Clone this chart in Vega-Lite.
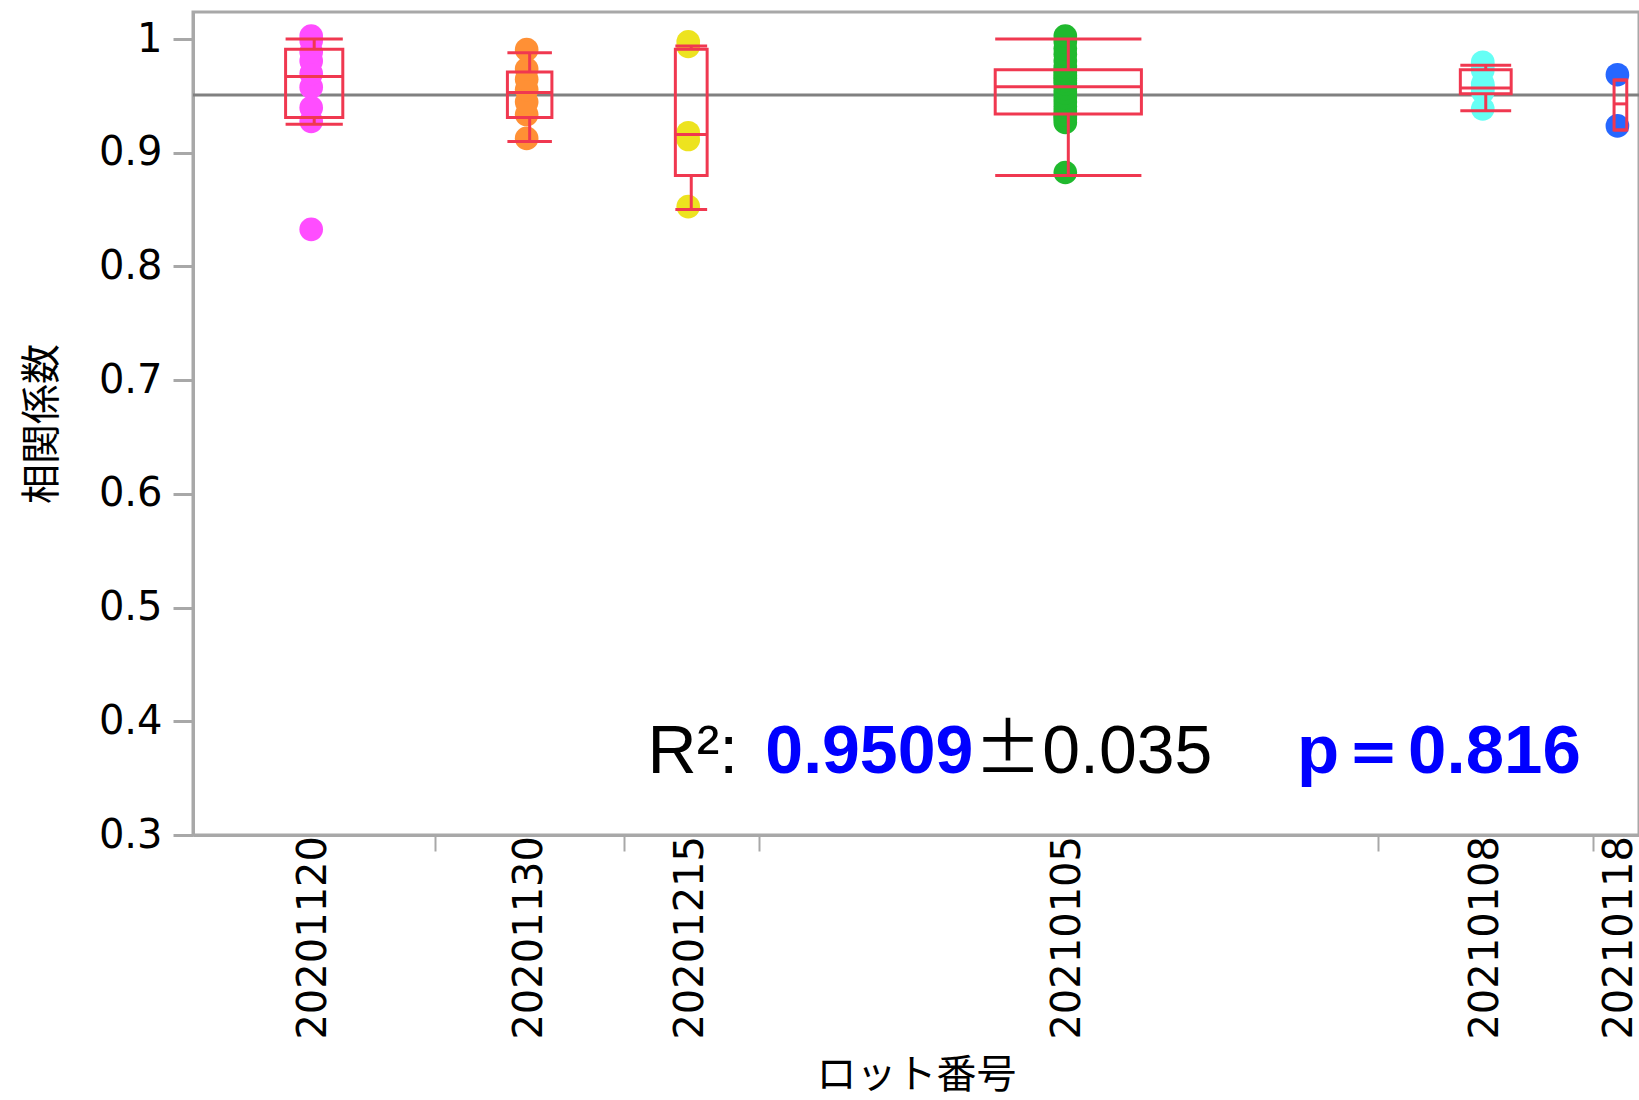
{
  "$schema": "https://vega.github.io/schema/vega-lite/v6.json",
  "autosize": {"type": "none"},
  "padding": {"left": 193, "top": 12, "right": 0, "bottom": 265},
  "width": 1446,
  "height": 823,
  "background": "white",
  "config": {
    "view": {"stroke": "#A8A8A8", "strokeWidth": 3},
    "axis": {
      "grid": false, "domainColor": "#A8A8A8", "domainWidth": 3, "tickColor": "#A8A8A8",
      "labelColor": "#000000", "titleColor": "#000000", "labelFont": "DejaVu Sans", "labelFontSize": 40,
      "titleFont": "Noto Sans CJK JP", "titleFontSize": 40, "titleFontWeight": "normal"
    },
    "axisX": {"labels": false, "tickSize": 16, "tickWidth": 2, "titlePadding": 203},
    "axisY": {"tickSize": 20, "tickWidth": 3, "labelPadding": 11, "titlePadding": 36}
  },
  "datasets": {
    "pts": [
      {"lot": "20201120", "r": 0.830}, {"lot": "20201120", "r": 0.925}, {"lot": "20201120", "r": 0.937},
      {"lot": "20201120", "r": 0.955}, {"lot": "20201120", "r": 0.967}, {"lot": "20201120", "r": 0.978},
      {"lot": "20201120", "r": 0.986}, {"lot": "20201120", "r": 0.996}, {"lot": "20201120", "r": 1.000},
      {"lot": "20201130", "r": 0.910}, {"lot": "20201130", "r": 0.931}, {"lot": "20201130", "r": 0.942},
      {"lot": "20201130", "r": 0.953}, {"lot": "20201130", "r": 0.962}, {"lot": "20201130", "r": 0.971},
      {"lot": "20201130", "r": 0.988},
      {"lot": "20201215", "r": 0.850}, {"lot": "20201215", "r": 0.909}, {"lot": "20201215", "r": 0.915},
      {"lot": "20201215", "r": 0.991}, {"lot": "20201215", "r": 0.995},
      {"lot": "20210105", "r": 0.880}, {"lot": "20210105", "r": 0.924}, {"lot": "20210105", "r": 0.927},
      {"lot": "20210105", "r": 0.929}, {"lot": "20210105", "r": 0.931}, {"lot": "20210105", "r": 0.934},
      {"lot": "20210105", "r": 0.938}, {"lot": "20210105", "r": 0.942}, {"lot": "20210105", "r": 0.946},
      {"lot": "20210105", "r": 0.950}, {"lot": "20210105", "r": 0.954}, {"lot": "20210105", "r": 0.958},
      {"lot": "20210105", "r": 0.961}, {"lot": "20210105", "r": 0.963}, {"lot": "20210105", "r": 0.965},
      {"lot": "20210105", "r": 0.968}, {"lot": "20210105", "r": 0.970}, {"lot": "20210105", "r": 0.973},
      {"lot": "20210105", "r": 0.978}, {"lot": "20210105", "r": 0.984}, {"lot": "20210105", "r": 0.989},
      {"lot": "20210105", "r": 0.995}, {"lot": "20210105", "r": 1.000},
      {"lot": "20210108", "r": 0.936}, {"lot": "20210108", "r": 0.951}, {"lot": "20210108", "r": 0.955},
      {"lot": "20210108", "r": 0.955}, {"lot": "20210108", "r": 0.958}, {"lot": "20210108", "r": 0.970},
      {"lot": "20210108", "r": 0.974}, {"lot": "20210108", "r": 0.977},
      {"lot": "20210118", "r": 0.921}, {"lot": "20210118", "r": 0.966}
    ],
    "box": [
      {"lot": "20201120", "n": 9, "lo": 0.925, "q1": 0.931, "med": 0.967, "q3": 0.991, "hi": 1.000},
      {"lot": "20201130", "n": 7, "lo": 0.910, "q1": 0.931, "med": 0.953, "q3": 0.971, "hi": 0.988},
      {"lot": "20201215", "n": 5, "lo": 0.850, "q1": 0.880, "med": 0.916, "q3": 0.991, "hi": 0.994},
      {"lot": "20210105", "n": 23, "lo": 0.880, "q1": 0.934, "med": 0.958, "q3": 0.973, "hi": 1.000},
      {"lot": "20210108", "n": 8, "lo": 0.937, "q1": 0.952, "med": 0.957, "q3": 0.973, "hi": 0.977},
      {"lot": "20210118", "n": 2, "lo": 0.920, "q1": 0.920, "med": 0.943, "q3": 0.964, "hi": 0.964}
    ]
  },
  "layer": [
    {
      "data": {"values": [{}]},
      "mark": {"type": "rule", "color": "#808080", "strokeWidth": 3},
      "encoding": {
        "x": {"datum": 0, "type": "quantitative", "scale": {"domain": [0, 53.69], "nice": false, "zero": false}, "axis": {"title": "ロット番号", "values": [9, 16, 21, 44, 52]}},
        "x2": {"datum": 53.69},
        "y": {"datum": 0.9509, "type": "quantitative", "scale": {"domain": [0.3, 1.0238], "nice": false, "zero": false}, "axis": {"title": "相関係数", "values": [0.3, 0.4, 0.5, 0.6, 0.7, 0.8, 0.9, 1], "labelExpr": "datum.value == 1 ? '1' : format(datum.value, '.1f')"}}
      }
    },
    {
      "data": {"name": "pts"},
      "transform": [
        {"window": [{"op": "row_number", "as": "idx"}], "sort": [{"field": "lot", "order": "ascending"}]},
        {"joinaggregate": [{"op": "max", "field": "idx", "as": "end"}, {"op": "count", "as": "n"}], "groupby": ["lot"]},
        {"calculate": "datum.end - datum.n / 2", "as": "xc"}
      ],
      "mark": {"type": "point", "shape": "circle", "filled": true, "size": 560, "opacity": 1, "xOffset": -3, "yOffset": -3},
      "encoding": {
        "x": {"field": "xc", "type": "quantitative", "scale": {"domain": [0, 53.69], "nice": false, "zero": false}, "axis": {"title": "ロット番号", "values": [9, 16, 21, 44, 52]}},
        "y": {"field": "r", "type": "quantitative", "scale": {"domain": [0.3, 1.0238], "nice": false, "zero": false}, "axis": {"title": "相関係数", "values": [0.3, 0.4, 0.5, 0.6, 0.7, 0.8, 0.9, 1], "labelExpr": "datum.value == 1 ? '1' : format(datum.value, '.1f')"}},
        "color": {
          "field": "lot", "type": "nominal",
          "scale": {
            "domain": ["20201120", "20201130", "20201215", "20210105", "20210108", "20210118"],
            "range": ["#FF4DFF", "#FF9035", "#EDE31F", "#20B92E", "#66FFF5", "#2667FF"]
          },
          "legend": null
        }
      }
    },
    {
      "data": {"name": "box"},
      "transform": [
        {"window": [{"op": "sum", "field": "n", "as": "end"}], "sort": [{"field": "lot", "order": "ascending"}], "frame": [null, 0]},
        {"calculate": "datum.end - datum.n / 2", "as": "xc"},
        {"calculate": "datum.xc - datum.n * 0.118", "as": "xl"},
        {"calculate": "datum.xc + datum.n * 0.118", "as": "xr"}
      ],
      "layer": [
        {
          "mark": {"type": "rect", "fillOpacity": 0, "stroke": "#F03850", "strokeWidth": 3},
          "encoding": {
            "x": {"field": "xl", "type": "quantitative", "scale": {"domain": [0, 53.69], "nice": false, "zero": false}, "axis": {"title": "ロット番号", "values": [9, 16, 21, 44, 52]}},
            "x2": {"field": "xr"},
            "y": {"field": "q1", "type": "quantitative", "scale": {"domain": [0.3, 1.0238], "nice": false, "zero": false}, "axis": {"title": "相関係数", "values": [0.3, 0.4, 0.5, 0.6, 0.7, 0.8, 0.9, 1], "labelExpr": "datum.value == 1 ? '1' : format(datum.value, '.1f')"}},
            "y2": {"field": "q3"}
          }
        },
        {
          "mark": {"type": "rule", "color": "#F03850", "strokeWidth": 3},
          "encoding": {
            "x": {"field": "xl", "type": "quantitative", "scale": {"domain": [0, 53.69], "nice": false, "zero": false}, "axis": {"title": "ロット番号", "values": [9, 16, 21, 44, 52]}},
            "x2": {"field": "xr"},
            "y": {"field": "med", "type": "quantitative", "scale": {"domain": [0.3, 1.0238], "nice": false, "zero": false}, "axis": {"title": "相関係数", "values": [0.3, 0.4, 0.5, 0.6, 0.7, 0.8, 0.9, 1], "labelExpr": "datum.value == 1 ? '1' : format(datum.value, '.1f')"}}
          }
        },
        {
          "mark": {"type": "rule", "color": "#F03850", "strokeWidth": 3},
          "encoding": {
            "x": {"field": "xc", "type": "quantitative", "scale": {"domain": [0, 53.69], "nice": false, "zero": false}, "axis": {"title": "ロット番号", "values": [9, 16, 21, 44, 52]}},
            "y": {"field": "q3", "type": "quantitative", "scale": {"domain": [0.3, 1.0238], "nice": false, "zero": false}, "axis": {"title": "相関係数", "values": [0.3, 0.4, 0.5, 0.6, 0.7, 0.8, 0.9, 1], "labelExpr": "datum.value == 1 ? '1' : format(datum.value, '.1f')"}},
            "y2": {"field": "hi"}
          }
        },
        {
          "mark": {"type": "rule", "color": "#F03850", "strokeWidth": 3},
          "encoding": {
            "x": {"field": "xc", "type": "quantitative", "scale": {"domain": [0, 53.69], "nice": false, "zero": false}, "axis": {"title": "ロット番号", "values": [9, 16, 21, 44, 52]}},
            "y": {"field": "lo", "type": "quantitative", "scale": {"domain": [0.3, 1.0238], "nice": false, "zero": false}, "axis": {"title": "相関係数", "values": [0.3, 0.4, 0.5, 0.6, 0.7, 0.8, 0.9, 1], "labelExpr": "datum.value == 1 ? '1' : format(datum.value, '.1f')"}},
            "y2": {"field": "q1"}
          }
        },
        {
          "mark": {"type": "rule", "color": "#F03850", "strokeWidth": 3},
          "encoding": {
            "x": {"field": "xl", "type": "quantitative", "scale": {"domain": [0, 53.69], "nice": false, "zero": false}, "axis": {"title": "ロット番号", "values": [9, 16, 21, 44, 52]}},
            "x2": {"field": "xr"},
            "y": {"field": "hi", "type": "quantitative", "scale": {"domain": [0.3, 1.0238], "nice": false, "zero": false}, "axis": {"title": "相関係数", "values": [0.3, 0.4, 0.5, 0.6, 0.7, 0.8, 0.9, 1], "labelExpr": "datum.value == 1 ? '1' : format(datum.value, '.1f')"}}
          }
        },
        {
          "mark": {"type": "rule", "color": "#F03850", "strokeWidth": 3},
          "encoding": {
            "x": {"field": "xl", "type": "quantitative", "scale": {"domain": [0, 53.69], "nice": false, "zero": false}, "axis": {"title": "ロット番号", "values": [9, 16, 21, 44, 52]}},
            "x2": {"field": "xr"},
            "y": {"field": "lo", "type": "quantitative", "scale": {"domain": [0.3, 1.0238], "nice": false, "zero": false}, "axis": {"title": "相関係数", "values": [0.3, 0.4, 0.5, 0.6, 0.7, 0.8, 0.9, 1], "labelExpr": "datum.value == 1 ? '1' : format(datum.value, '.1f')"}}
          }
        },
        {
          "mark": {"type": "text", "angle": 270, "align": "right", "baseline": "middle", "dx": -1, "font": "DejaVu Sans", "fontSize": 40, "color": "#000000"},
          "encoding": {
            "x": {"field": "xc", "type": "quantitative", "scale": {"domain": [0, 53.69], "nice": false, "zero": false}, "axis": {"title": "ロット番号", "values": [9, 16, 21, 44, 52]}},
            "y": {"datum": 0.3, "type": "quantitative", "scale": {"domain": [0.3, 1.0238], "nice": false, "zero": false}, "axis": {"title": "相関係数", "values": [0.3, 0.4, 0.5, 0.6, 0.7, 0.8, 0.9, 1], "labelExpr": "datum.value == 1 ? '1' : format(datum.value, '.1f')"}},
            "text": {"field": "lot"}
          }
        }
      ]
    },
    {
      "data": {"values": [{}]},
      "layer": [
        {
          "mark": {"type": "text", "text": "R²:", "align": "left", "baseline": "alphabetic", "font": "Liberation Sans", "fontSize": 68, "color": "#000000"},
          "encoding": {
            "x": {"datum": 16.88, "type": "quantitative", "scale": {"domain": [0, 53.69], "nice": false, "zero": false}, "axis": {"title": "ロット番号", "values": [9, 16, 21, 44, 52]}},
            "y": {"datum": 0.3541, "type": "quantitative", "scale": {"domain": [0.3, 1.0238], "nice": false, "zero": false}, "axis": {"title": "相関係数", "values": [0.3, 0.4, 0.5, 0.6, 0.7, 0.8, 0.9, 1], "labelExpr": "datum.value == 1 ? '1' : format(datum.value, '.1f')"}}
          }
        },
        {
          "mark": {"type": "text", "text": "0.9509", "align": "left", "baseline": "alphabetic", "font": "Liberation Sans", "fontSize": 68, "fontWeight": "bold", "color": "#0000FF"},
          "encoding": {
            "x": {"datum": 21.25, "type": "quantitative", "scale": {"domain": [0, 53.69], "nice": false, "zero": false}, "axis": {"title": "ロット番号", "values": [9, 16, 21, 44, 52]}},
            "y": {"datum": 0.3541, "type": "quantitative", "scale": {"domain": [0.3, 1.0238], "nice": false, "zero": false}, "axis": {"title": "相関係数", "values": [0.3, 0.4, 0.5, 0.6, 0.7, 0.8, 0.9, 1], "labelExpr": "datum.value == 1 ? '1' : format(datum.value, '.1f')"}}
          }
        },
        {
          "mark": {"type": "text", "text": "±", "align": "left", "baseline": "alphabetic", "font": "Noto Sans CJK JP", "fontSize": 68, "color": "#000000"},
          "encoding": {
            "x": {"datum": 29.0, "type": "quantitative", "scale": {"domain": [0, 53.69], "nice": false, "zero": false}, "axis": {"title": "ロット番号", "values": [9, 16, 21, 44, 52]}},
            "y": {"datum": 0.3541, "type": "quantitative", "scale": {"domain": [0.3, 1.0238], "nice": false, "zero": false}, "axis": {"title": "相関係数", "values": [0.3, 0.4, 0.5, 0.6, 0.7, 0.8, 0.9, 1], "labelExpr": "datum.value == 1 ? '1' : format(datum.value, '.1f')"}}
          }
        },
        {
          "mark": {"type": "text", "text": "0.035", "align": "left", "baseline": "alphabetic", "font": "Liberation Sans", "fontSize": 68, "color": "#000000"},
          "encoding": {
            "x": {"datum": 31.53, "type": "quantitative", "scale": {"domain": [0, 53.69], "nice": false, "zero": false}, "axis": {"title": "ロット番号", "values": [9, 16, 21, 44, 52]}},
            "y": {"datum": 0.3541, "type": "quantitative", "scale": {"domain": [0.3, 1.0238], "nice": false, "zero": false}, "axis": {"title": "相関係数", "values": [0.3, 0.4, 0.5, 0.6, 0.7, 0.8, 0.9, 1], "labelExpr": "datum.value == 1 ? '1' : format(datum.value, '.1f')"}}
          }
        },
        {
          "mark": {"type": "text", "text": "p＝0.816", "align": "left", "baseline": "alphabetic", "font": "Liberation Sans", "fontSize": 69, "fontWeight": "bold", "color": "#0000FF"},
          "encoding": {
            "x": {"datum": 40.99, "type": "quantitative", "scale": {"domain": [0, 53.69], "nice": false, "zero": false}, "axis": {"title": "ロット番号", "values": [9, 16, 21, 44, 52]}},
            "y": {"datum": 0.3541, "type": "quantitative", "scale": {"domain": [0.3, 1.0238], "nice": false, "zero": false}, "axis": {"title": "相関係数", "values": [0.3, 0.4, 0.5, 0.6, 0.7, 0.8, 0.9, 1], "labelExpr": "datum.value == 1 ? '1' : format(datum.value, '.1f')"}}
          }
        }
      ]
    }
  ]
}
